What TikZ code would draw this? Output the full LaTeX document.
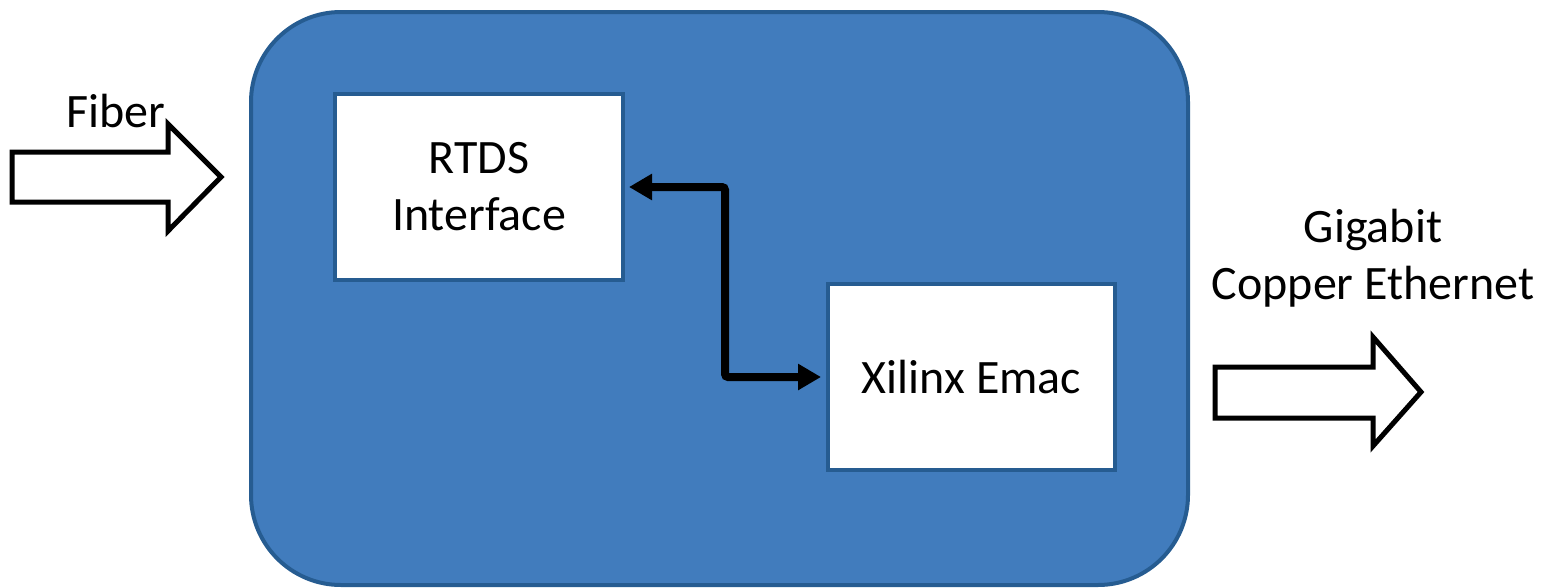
\documentclass[tikz,border=0pt]{standalone}
\usepackage{fontspec}
\setmainfont{Carlito}
\usetikzlibrary{arrows.meta}
\definecolor{boardfill}{RGB}{65,124,189}
\definecolor{boardline}{RGB}{38,92,145}
\tikzset{
  board/.style={draw=boardline, line width=4pt, fill=boardfill, rounded corners=90pt, inner sep=0pt},
  block/.style={draw=boardline, line width=4pt, fill=white, inner sep=0pt, align=center, font=\fontsize{48}{57}\selectfont},
  label/.style={inner sep=0pt, align=center, font=\fontsize{48}{57}\selectfont},
  bigarrow/.style={draw=black, line width=5pt, fill=white, line join=miter},
  conn/.style={draw=black, line width=8pt, rounded corners=3pt, {Triangle[length=23pt,width=25pt]}-{Triangle[length=23pt,width=25pt]}}
}
\begin{document}
\begin{tikzpicture}[x=1pt,y=-1pt]
\useasboundingbox (0,0) rectangle (1542,587);
\node[board, minimum width=937pt, minimum height=573pt] (board) at (719.5,298.5) {};
\node[block, minimum width=288pt, minimum height=186pt] (rtds) at (479,187) {RTDS\\Interface};
\node[block, minimum width=287pt, minimum height=186pt] (xil) at (971.5,377) {Xilinx Emac};
\coordinate (bend) at (725,187);
\draw[conn] ([xshift=4pt]rtds.east) -- (bend) |- ([xshift=-5pt]xil.west);
% Fiber input arrow
\path[bigarrow] (12,152) -- (168,152) -- (168,124) -- (221,177) -- (168,231) -- (168,202) -- (12,202) -- cycle;
\node[label, anchor=base] (fiber) at (115.5,127) {Fiber};
% Gigabit output arrow
\path[bigarrow] (1215,367) -- (1373,367) -- (1373,337) -- (1421,392) -- (1373,446) -- (1373,418) -- (1215,418) -- cycle;
\node[label] (gig) at (1373,258) {Gigabit\\Copper Ethernet};
\end{tikzpicture}
\end{document}
